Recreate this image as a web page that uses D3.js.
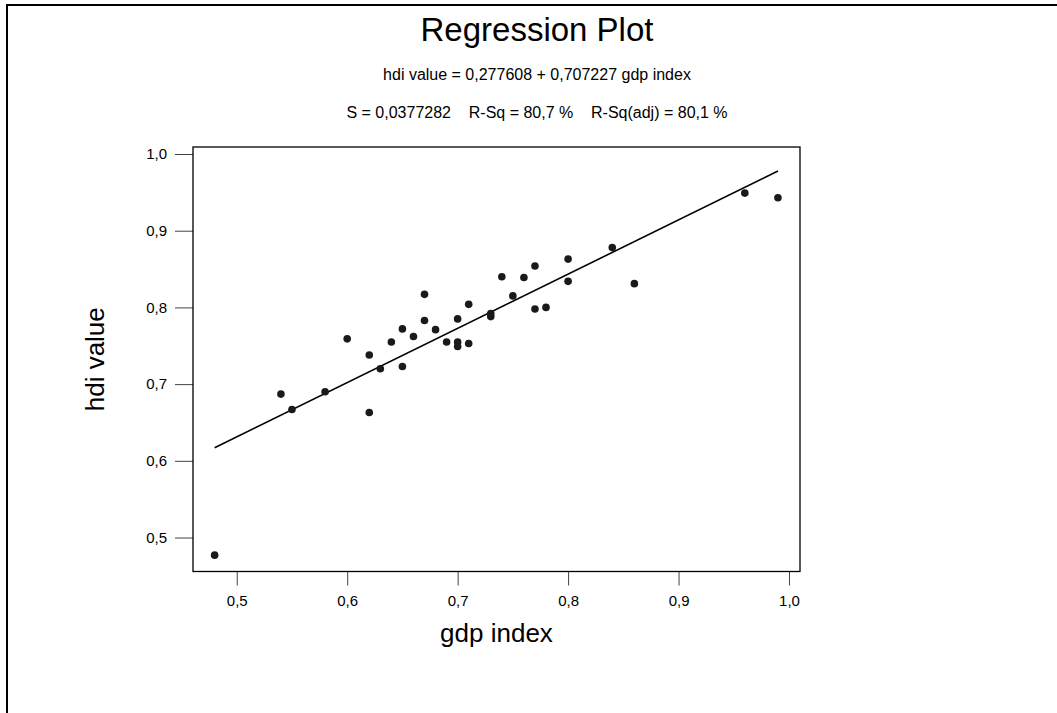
<!DOCTYPE html>
<html>
<head>
<meta charset="utf-8">
<script src="https://cdn.jsdelivr.net/npm/d3@7"></script>
<style>
  body { margin: 0; background: #fff; }
  svg { display: block; font-family: "Liberation Sans", Arial, sans-serif; }
</style>
</head>
<body>
<svg id="chart" width="1057" height="713"></svg>
<script>
// data
var gdp_index = [0.48, 0.54, 0.55, 0.58, 0.60, 0.62, 0.62, 0.63, 0.64, 0.65, 0.65, 0.66,
                 0.67, 0.67, 0.68, 0.69, 0.70, 0.70, 0.70, 0.71, 0.71, 0.73, 0.73, 0.74,
                 0.75, 0.76, 0.77, 0.77, 0.78, 0.80, 0.80, 0.84, 0.86, 0.96, 0.99];
var hdi_value = [0.477, 0.687, 0.667, 0.690, 0.759, 0.738, 0.663, 0.720, 0.755, 0.772, 0.723, 0.762,
                 0.783, 0.817, 0.771, 0.755, 0.785, 0.755, 0.749, 0.804, 0.753, 0.792, 0.788, 0.840,
                 0.815, 0.839, 0.854, 0.798, 0.800, 0.863, 0.834, 0.878, 0.831, 0.949, 0.943];

var x_ticks = [0.5, 0.6, 0.7, 0.8, 0.9, 1.0];
var y_ticks = [0.5, 0.6, 0.7, 0.8, 0.9, 1.0];

var intercept = 0.277608;
var slope = 0.707227;

var title = "Regression Plot";
var subtitle = "hdi value = 0,277608 + 0,707227 gdp index";
var stats = "S = 0,0377282    R-Sq = 80,7 %    R-Sq(adj) = 80,1 %";

var plot_left = 193, plot_right = 800, plot_top = 147, plot_bottom = 571.5;

var svg = d3.select("#chart");

// outer frame (runs off the right and bottom)
svg.append("rect")
  .attr("x", 7).attr("y", 5)
  .attr("width", 1100).attr("height", 760)
  .attr("fill", "none")
  .attr("stroke", "#000")
  .attr("stroke-width", 2);

var x = d3.scaleLinear().domain([0.4604, 1.00996]).range([plot_left, plot_right]);
var y = d3.scaleLinear().domain([0.4557, 1.00913]).range([plot_bottom, plot_top]);

var comma = function(d) { return d3.format(".1f")(d).replace(".", ","); };

// x axis
var xa = svg.append("g")
  .attr("transform", "translate(0," + plot_bottom + ")")
  .call(d3.axisBottom(x).tickValues(x_ticks).tickFormat(comma).tickSize(14).tickPadding(10));
xa.select(".domain").remove();
xa.selectAll(".tick line").attr("stroke", "#444");
xa.selectAll(".tick text").attr("font-size", 15).attr("fill", "#000")
  .attr("font-family", "Liberation Sans, Arial, sans-serif");

// y axis
var ya = svg.append("g")
  .attr("transform", "translate(" + plot_left + ",0)")
  .call(d3.axisLeft(y).tickValues(y_ticks).tickFormat(comma).tickSize(18).tickPadding(8));
ya.select(".domain").remove();
ya.selectAll(".tick line").attr("stroke", "#444");
ya.selectAll(".tick text").attr("font-size", 15).attr("fill", "#000")
  .attr("font-family", "Liberation Sans, Arial, sans-serif");

// plot box
svg.append("rect")
  .attr("x", plot_left).attr("y", plot_top)
  .attr("width", plot_right - plot_left).attr("height", plot_bottom - plot_top)
  .attr("fill", "none")
  .attr("stroke", "#000")
  .attr("stroke-width", 1.3);

// fitted line over the data range
var xmin = d3.min(gdp_index), xmax = d3.max(gdp_index);
svg.append("line")
  .attr("x1", x(xmin)).attr("y1", y(intercept + slope * xmin))
  .attr("x2", x(xmax)).attr("y2", y(intercept + slope * xmax))
  .attr("stroke", "#000")
  .attr("stroke-width", 1.6);

// points
svg.append("g").selectAll("circle")
  .data(d3.range(gdp_index.length))
  .enter().append("circle")
  .attr("cx", function(i) { return x(gdp_index[i]); })
  .attr("cy", function(i) { return y(hdi_value[i]); })
  .attr("r", 3.8)
  .attr("fill", "#1a1a1a");

// titles
svg.append("text")
  .attr("x", 537).attr("y", 41)
  .attr("text-anchor", "middle")
  .attr("font-size", 33)
  .text(title);

svg.append("text")
  .attr("x", 537).attr("y", 80)
  .attr("text-anchor", "middle")
  .attr("font-size", 16)
  .text(subtitle);

svg.append("text")
  .attr("x", 537).attr("y", 118)
  .attr("text-anchor", "middle")
  .attr("font-size", 16)
  .style("white-space", "pre")
  .text(stats);

// axis labels
svg.append("text")
  .attr("x", (plot_left + plot_right) / 2).attr("y", 642)
  .attr("text-anchor", "middle")
  .attr("font-size", 26)
  .text("gdp index");

svg.append("text")
  .attr("transform", "translate(104," + (plot_top + plot_bottom) / 2 + ") rotate(-90)")
  .attr("text-anchor", "middle")
  .attr("font-size", 26)
  .text("hdi value");
</script>
</body>
</html>
